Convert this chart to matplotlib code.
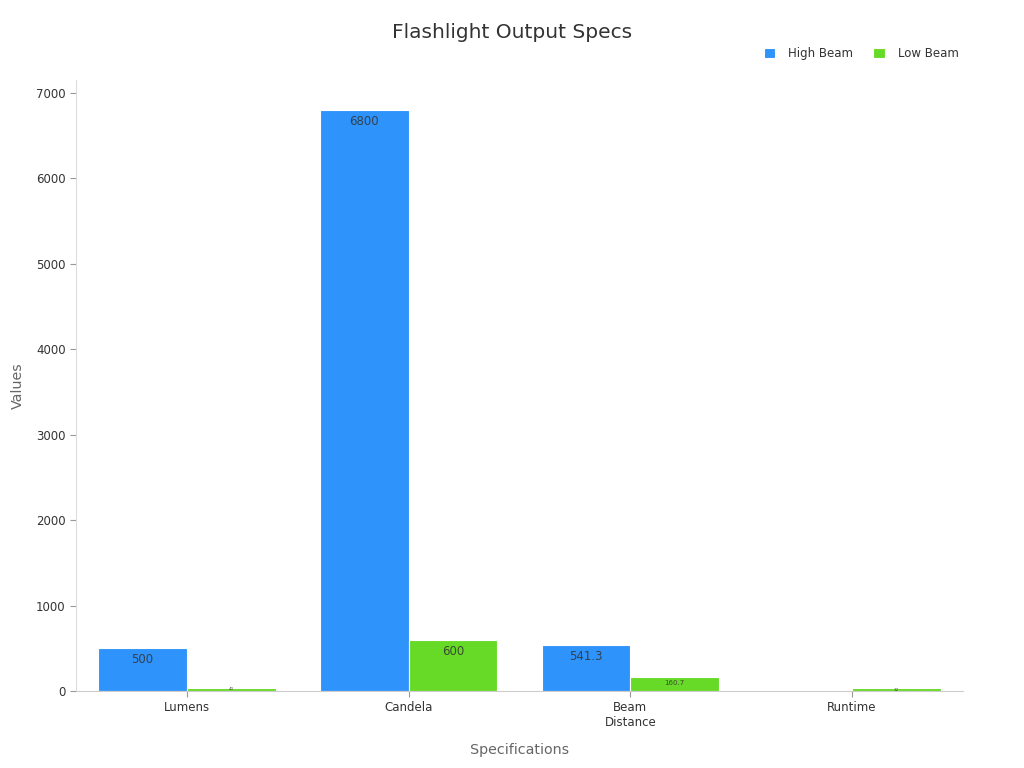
import matplotlib.pyplot as plt
import numpy as np

# Datos del gráfico
categories = ["Lumens", "Candela", "Beam\nDistance", "Runtime"]
high_beam = [500, 6800, 541.3, 1.5]
low_beam = [40, 600, 160.7, 32]
series_names = ["High Beam", "Low Beam"]
colors = ["#2E93FA", "#66DA26"]

fig = plt.figure(figsize=(10.24, 7.68), dpi=100)
ax = fig.add_axes([0.0742, 0.1003, 0.8662, 0.7957])

x = np.arange(len(categories))
w = 0.4
bars_h = ax.bar(x - w / 2, high_beam, w, color=colors[0], edgecolor="white", linewidth=0.8, label=series_names[0])
bars_l = ax.bar(x + w / 2, low_beam, w, color=colors[1], edgecolor="white", linewidth=0.8, label=series_names[1])


def label_bars(bars, values):
    for b, v in zip(bars, values):
        h = b.get_height()
        if h < 10:
            continue
        px = h * 598 / 7000
        size = 8.5 if px > 30 else (5 if px > 8 else 3)
        txt = f"{v:g}"
        if px > 8:
            ax.text(b.get_x() + b.get_width() / 2, h - 60 * size / 8.5, txt,
                    ha="center", va="top", fontsize=size, color="#333333", alpha=0.85)
        else:
            ax.text(b.get_x() + b.get_width() / 2, h / 2, txt,
                    ha="center", va="center", fontsize=size, color="#333333", alpha=0.85)


label_bars(bars_h, high_beam)
label_bars(bars_l, low_beam)

ax.set_xlim(-0.5, 3.5)
ax.set_ylim(0, 7150)
ax.set_xticks(x)
ax.set_xticklabels(categories, fontsize=8.5, color="#333333")
ax.set_yticks(range(0, 7001, 1000))
ax.tick_params(axis="y", labelsize=8.5, colors="#333333", length=4, color="#999999")
ax.tick_params(axis="x", length=4, color="#999999")

for s in ["top", "right"]:
    ax.spines[s].set_visible(False)
ax.spines["left"].set_color("#dddddd")
ax.spines["bottom"].set_color("#cccccc")

ax.set_xlabel("Specifications", fontsize=10.3, color="#666666", labelpad=10)
ax.set_ylabel("Values", fontsize=10.3, color="#666666", labelpad=8)
fig.suptitle("Flashlight Output Specs", fontsize=14.5, color="#333333", y=0.97)

leg = ax.legend(loc="upper right", bbox_to_anchor=(1.007, 1.071), ncol=2, frameon=False, fontsize=8.5,
                handlelength=1.0, handleheight=1.0, columnspacing=1.65, handletextpad=1.1)
for t in leg.get_texts():
    t.set_color("#333333")

plt.savefig("out.png")
